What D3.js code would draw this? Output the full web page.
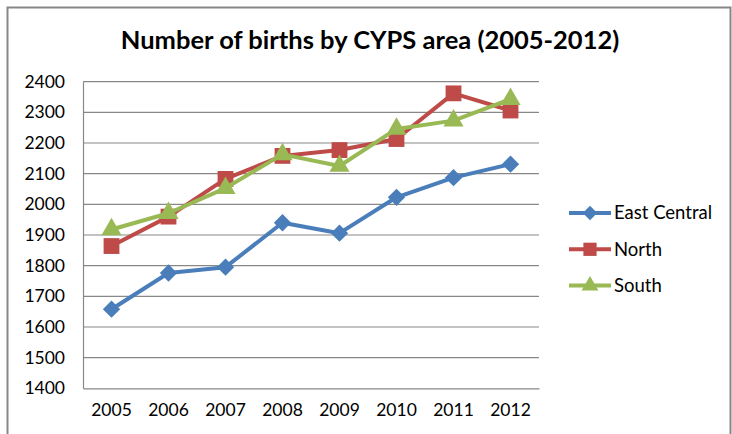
<!DOCTYPE html>
<html><head><meta charset="utf-8">
<script src="https://cdn.jsdelivr.net/npm/d3@7"></script>
<style>body{margin:0;background:#fff;} svg{display:block;}</style>
</head><body>
<svg id="c" width="732" height="434"></svg>
<script>
const years = ["2005","2006","2007","2008","2009","2010","2011","2012"];
const eastCentral = [1658, 1776, 1795, 1940, 1906, 2023, 2087, 2131];
const north = [1864, 1960, 2083, 2158, 2177, 2213, 2362, 2306];
const south = [1918, 1971, 2053, 2163, 2125, 2246, 2273, 2343];
const yTicks = [1400,1500,1600,1700,1800,1900,2000,2100,2200,2300,2400];
const seriesNames = ["East Central","North","South"];

// square-diamond symbol (rotated square)
const symDiamondSq = { draw(ctx, size){ const r = Math.sqrt(size/2); ctx.moveTo(0,-r); ctx.lineTo(r,0); ctx.lineTo(0,r); ctx.lineTo(-r,0); ctx.closePath(); } };

const series = [
  {name: seriesNames[0], values: eastCentral, color: "#4a7ebb", sym: symDiamondSq, size: 150},
  {name: seriesNames[1], values: north, color: "#be4b48", sym: d3.symbolSquare, size: 250},
  {name: seriesNames[2], values: south, color: "#98b954", sym: d3.symbolTriangle, size: 175}
];

const svg = d3.select("#c");
const font = "Lato, 'Open Sans', sans-serif";

svg.append("rect").attr("x",7.5).attr("y",7.5).attr("width",723).attr("height",440)
  .attr("fill","#fff").attr("stroke","#878787").attr("stroke-width",2);

svg.append("text").attr("x",370).attr("y",49).attr("text-anchor","middle")
  .attr("font-family",font).attr("font-weight","bold").attr("font-size",25.5).attr("fill","#000")
  .text("Number of births by CYPS area (2005-2012)");

const L=83, R=539, T=81.7, B=388.3;
const x = d3.scaleBand().domain(years).range([L,R]);
const y = d3.scaleLinear().domain([1400,2400]).range([B,T]);

// gridlines
svg.append("g").selectAll("line").data(yTicks.slice(1)).join("line")
  .attr("x1",L).attr("x2",R).attr("y1",d=>y(d)).attr("y2",d=>y(d))
  .attr("stroke","#888").attr("stroke-width",1.2);

// y axis
const ya = svg.append("g").attr("transform",`translate(${L},0)`)
  .call(d3.axisLeft(y).tickValues(yTicks).tickSize(0).tickPadding(18).tickFormat(d3.format("d")));
ya.select(".domain").attr("stroke","#888").attr("stroke-width",1.2);
ya.selectAll("text").attr("font-family",font).attr("font-size",17.5).attr("fill","#000");

// x axis
const xa = svg.append("g").attr("transform",`translate(0,${B})`)
  .call(d3.axisBottom(x).tickSize(0).tickPadding(15));
xa.select(".domain").attr("stroke","#888").attr("stroke-width",1.2);
xa.selectAll("text").attr("font-family",font).attr("font-size",17.5).attr("fill","#000");

const line = d3.line().x((d,i)=>x(years[i])+x.bandwidth()/2).y(d=>y(d));

series.forEach(s=>{
  svg.append("path").datum(s.values).attr("d",line).attr("fill","none")
    .attr("stroke",s.color).attr("stroke-width",4).attr("stroke-linejoin","round");
  svg.append("g").selectAll("path").data(s.values).join("path")
    .attr("d",d3.symbol().type(s.sym).size(s.size))
    .attr("transform",(d,i)=>`translate(${x(years[i])+x.bandwidth()/2},${y(d)})`)
    .attr("fill",s.color);
});

// legend
const lg = svg.append("g");
series.forEach((s,i)=>{
  const ly = 213 + i*36.3;
  lg.append("line").attr("x1",569).attr("x2",611).attr("y1",ly).attr("y2",ly)
    .attr("stroke",s.color).attr("stroke-width",4);
  lg.append("path").attr("d",d3.symbol().type(s.sym).size(s.size*0.7))
    .attr("transform",`translate(590,${ly})`).attr("fill",s.color);
  lg.append("text").attr("x",614).attr("y",ly).attr("dy","0.35em")
    .attr("font-family",font).attr("font-size",18.5).attr("fill","#000").text(s.name);
});
</script>
</body></html>
